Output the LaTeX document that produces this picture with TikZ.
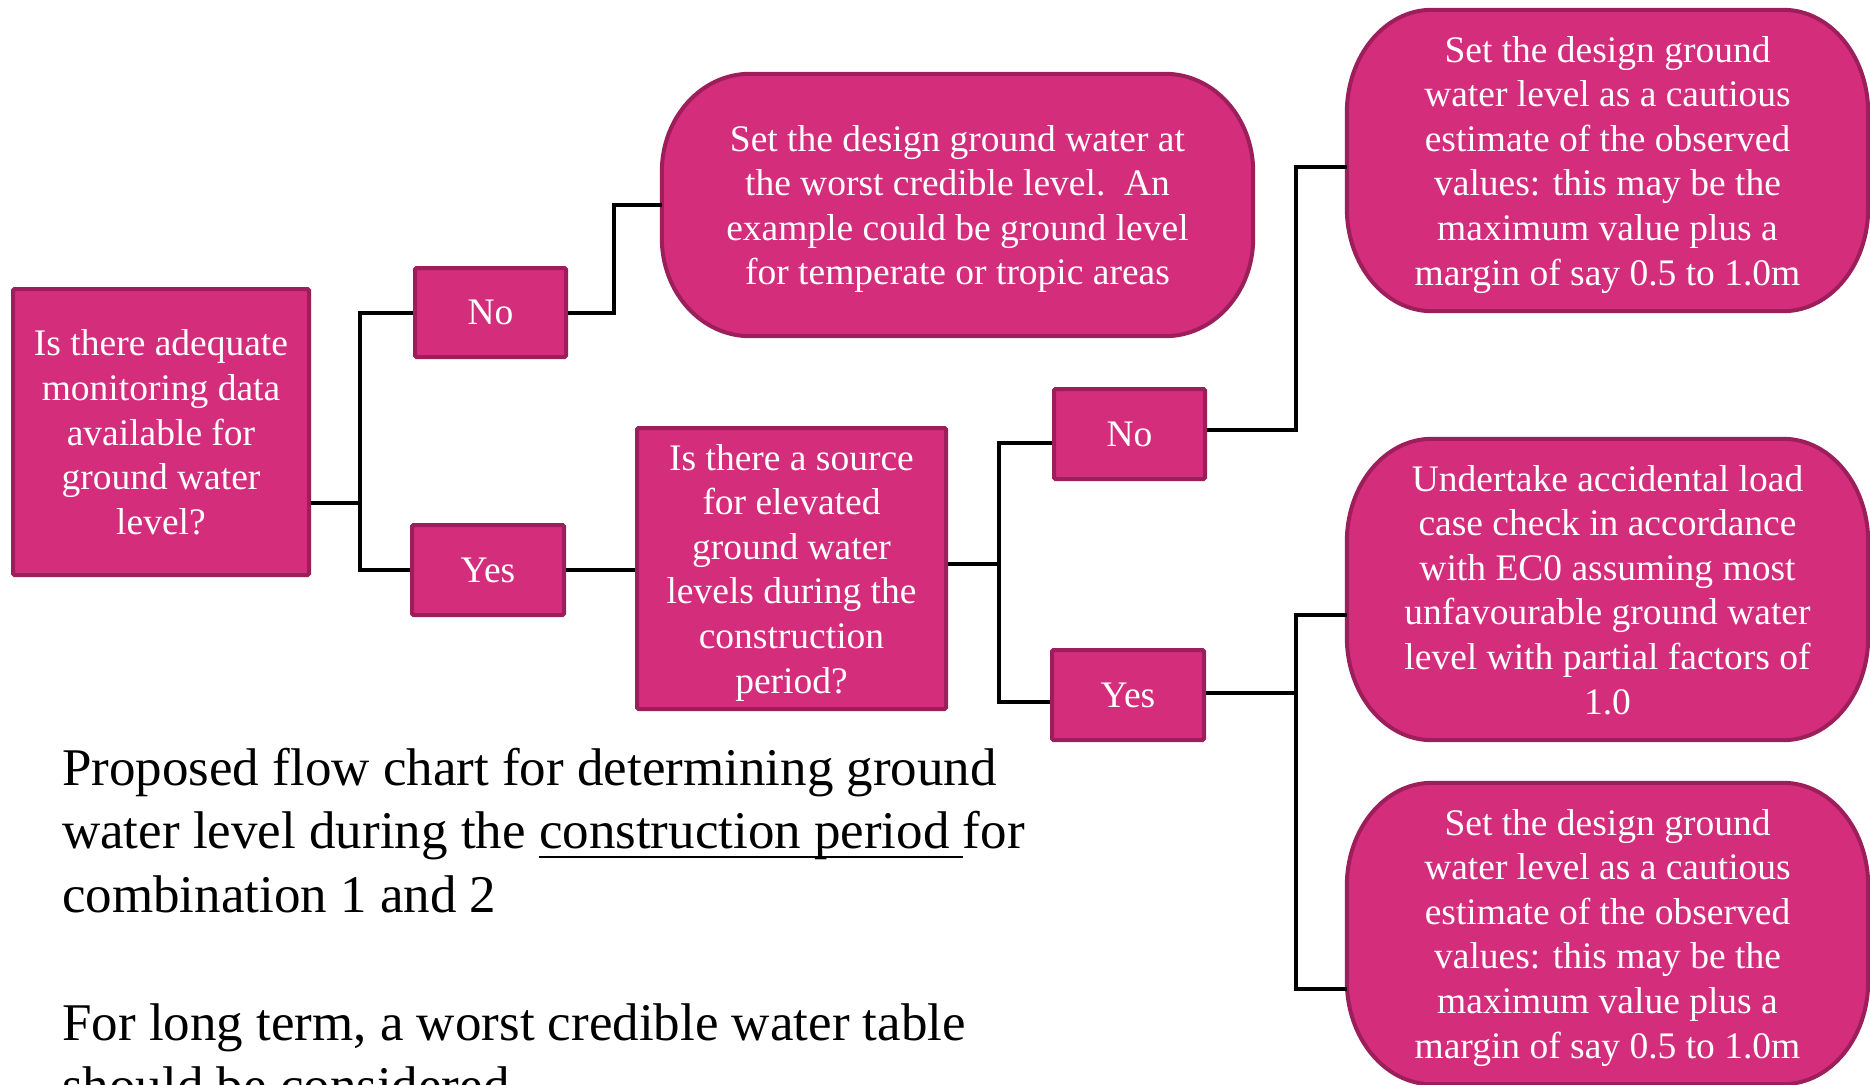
\documentclass[tikz,border=0pt]{standalone}
\usepackage{fontspec}
\setmainfont{Liberation Serif}
\usetikzlibrary{backgrounds}

\definecolor{boxfill}{RGB}{211,45,124}
\definecolor{boxline}{RGB}{156,30,90}

% underline drawn at a fixed depth under the baseline (crosses descenders)
\newcommand{\lowline}[1]{\setbox0\hbox{#1}\rlap{\rule[-9.5pt]{\wd0}{2.5pt}}\box0}

% terminal with elliptical corners, built on the anchors of node #1
\newcommand{\termshape}[3]{%
  \path[termstyle]
    ([xshift=#2]#1.north west) -- ([xshift=-#2]#1.north east)
    arc[start angle=90,end angle=0,x radius=#2,y radius=#3]
    -- ([yshift=#3]#1.south east)
    arc[start angle=0,end angle=-90,x radius=#2,y radius=#3]
    -- ([xshift=#2]#1.south west)
    arc[start angle=270,end angle=180,x radius=#2,y radius=#3]
    -- ([yshift=-#3]#1.north west)
    arc[start angle=180,end angle=90,x radius=#2,y radius=#3]
    -- cycle;}

\begin{document}
\begin{tikzpicture}[x=1pt,y=-1pt,
  boxtext/.style={text=white,align=center,inner sep=0pt,text depth=-7pt,
    font=\fontsize{37.5pt}{44.6pt}\selectfont},
  qbox/.style={boxtext,draw=boxline,fill=boxfill,line width=4pt,
    rounded corners=1.5pt},
  term/.style={boxtext,draw=none},
  termstyle/.style={draw=boxline,fill=boxfill,line width=4pt},
  link/.style={draw=black,line width=4pt},
  caption/.style={anchor=base west,inner sep=0pt,
    font=\fontsize{53pt}{63.75pt}\selectfont}]

\useasboundingbox (0,0) rectangle (1870,1084);

% decision and answer boxes
\node[qbox,minimum width=296pt,minimum height=286pt] (q1) at (161,432)
  {Is there adequate\\monitoring data\\available for\\ground water\\level?};
\node[qbox,minimum width=151pt,minimum height=89pt] (no1) at (490.5,312.5) {No};
\node[qbox,minimum width=152pt,minimum height=90pt] (yes1) at (488,570) {Yes};
\node[qbox,minimum width=309pt,minimum height=281pt] (q2) at (791.5,568.5)
  {Is there a source\\for elevated\\ground water\\levels during the\\construction\\period?};
\node[qbox,minimum width=151pt,minimum height=90pt] (no2) at (1129.5,434) {No};
\node[qbox,minimum width=152pt,minimum height=90pt] (yes2) at (1128,695) {Yes};

% outcome terminals (text only; outlines go on the background layer)
\node[term,minimum width=591pt,minimum height=262pt] (t1) at (957.5,205)
  {Set the design ground water at\\the worst credible level.~\ An\\example could be ground level\\for temperate or tropic areas};
\node[term,minimum width=521pt,minimum height=301pt] (t2) at (1607.5,160.5)
  {Set the design ground\\water level as a cautious\\estimate of the observed\\values: this may be the\\maximum value plus a\\margin of say 0.5 to 1.0m};
\node[term,minimum width=521pt,minimum height=301pt] (t3) at (1607.5,589.5)
  {Undertake accidental load\\case check in accordance\\with EC0 assuming most\\unfavourable ground water\\level with partial factors of\\1.0};
\node[term,minimum width=521pt,minimum height=301pt] (t4) at (1607.5,933.5)
  {Set the design ground\\water level as a cautious\\estimate of the observed\\values: this may be the\\maximum value plus a\\margin of say 0.5 to 1.0m};

\begin{pgfonlayer}{background}
  \fill[white] (0,0) rectangle (1870,1084);
  \termshape{t1}{88pt}{98pt}
  \termshape{t2}{85pt}{103pt}
  \termshape{t3}{85pt}{103pt}
  \termshape{t4}{85pt}{103pt}
\end{pgfonlayer}

% connectors
\coordinate (j1) at (360,503);
\draw[link] (q1.east |- j1) -- (j1);
\draw[link] (no1.west) -| (j1) |- (yes1.west);

\coordinate (j2) at (614,0);
\draw[link] (no1.east) -| (j2 |- t1.west) -- (t1.west);

\draw[link] (yes1.east) -- (yes1.east -| q2.west);

\coordinate (j3) at (999,564);
\draw[link] (q2.east |- j3) -- (j3);
\draw[link] ([yshift=-9pt]no2.west) -| (j3) |- ([yshift=-7pt]yes2.west);

\coordinate (j4) at (1296,0);
\coordinate (t2in) at ([yshift=-6pt]t2.west);
\draw[link] ([yshift=4pt]no2.east) -| (j4 |- t2in) -- (t2in);

\coordinate (j5) at (1296,693);
\draw[link] ([yshift=2pt]yes2.east) -- (j5);
\draw[link] ([yshift=-25pt]t3.west) -| (j5) |- ([yshift=-55pt]t4.west);

% caption
\node[caption] (cap1) at (62,785) {Proposed flow chart for determining ground};
\node[caption] (cap2) at (62,848.75) {water level during the \lowline{construction period\ }for};
\node[caption] (cap3) at (62,912.5) {combination 1 and 2};
\node[caption] (cap4) at (62,1040) {For long term, a worst credible water table};
\node[caption] (cap5) at (62,1103.75) {should be considered};
\end{tikzpicture}
\end{document}
